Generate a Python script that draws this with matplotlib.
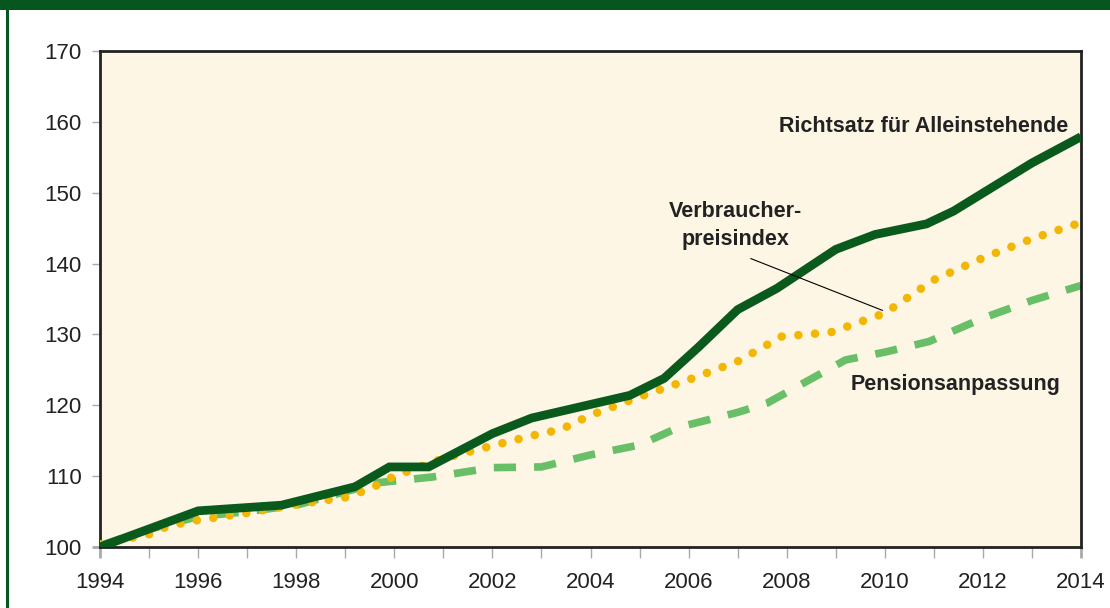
import matplotlib
matplotlib.use("Agg")
import matplotlib.pyplot as plt
from matplotlib.patches import Rectangle
from matplotlib.lines import Line2D

plt.rcParams['font.family'] = ['Liberation Sans', 'DejaVu Sans']
plt.rcParams['lines.scale_dashes'] = False

# Richtsatz für Alleinstehende
r_years = [1994, 1996, 1997.7, 1999.2, 1999.9, 2000.7, 2002, 2002.8, 2004.8, 2005.5,
           2006.2, 2007.0, 2007.8, 2009.0, 2009.8, 2010.85, 2011.4, 2013.0, 2014]
r_vals = [100, 105.1, 105.9, 108.5, 111.3, 111.3, 116.0, 118.2, 121.4, 123.8,
          128.2, 133.5, 136.5, 142.0, 144.1, 145.6, 147.4, 154.2, 157.9]

# Verbraucherpreisindex
c_years = [1994, 1995, 1995.4, 1996, 1997, 1998, 1999, 1999.5, 2000, 2001, 2002, 2002.8,
           2003.4, 2004, 2005, 2006, 2007, 2007.9, 2008.9, 2010, 2011, 2012, 2013, 2014]
c_vals = [100.4, 101.8, 103.0, 103.8, 104.8, 106.0, 107.0, 108.2, 110.0, 112.5, 114.3, 115.7,
          116.6, 118.6, 121.2, 123.6, 126.2, 129.7, 130.3, 133.0, 137.7, 140.8, 143.5, 145.8]

# Pensionsanpassung
p_years = [1994, 1995, 1996, 1997, 1998, 1999, 1999.7, 2000.8, 2002, 2003, 2004, 2005,
           2005.8, 2007, 2007.6, 2009.2, 2010, 2010.9, 2012, 2013, 2014]
p_vals = [100.2, 102.5, 104.3, 105.0, 105.9, 107.8, 109.1, 109.9, 111.2, 111.3, 113.0, 114.4,
          116.9, 119.0, 120.3, 126.4, 127.5, 129.0, 132.3, 134.8, 136.9]

x_major = list(range(1994, 2015, 2))
x_minor = list(range(1994, 2015, 1))
y_ticks = [100, 110, 120, 130, 140, 150, 160, 170]

dark_green = '#0A5A1E'
light_green = '#68BF68'
yellow = '#F2B705'
cream = '#FDF6E4'
ink = '#222222'

fig = plt.figure(figsize=(11.10, 6.08), dpi=100)
fig.patch.set_facecolor('white')
fig.patches.append(Rectangle((0, 1 - 10 / 608), 1, 10 / 608, transform=fig.transFigure,
                             facecolor='#07561F', edgecolor='none'))
fig.lines.append(Line2D([6.5 / 1110, 6.5 / 1110], [0, 1], transform=fig.transFigure,
                        color='#07561F', lw=2.2))

ax = fig.add_axes([100 / 1110, 1 - 547 / 608, 981 / 1110, 496 / 608])
ax.set_facecolor(cream)

ax.plot(p_years, p_vals, color=light_green, lw=5.5, dashes=(16, 13),
        dash_capstyle='butt', dash_joinstyle='round', zorder=2)
ax.plot(c_years, c_vals, color=yellow, lw=6.2, dashes=(0.01, 12.0),
        dash_capstyle='round', zorder=3)
ax.plot(r_years, r_vals, color=dark_green, lw=6.3, solid_joinstyle='miter',
        solid_capstyle='butt', zorder=4)

ax.set_xlim(1994, 2014)
ax.set_ylim(100, 170)
ax.set_xticks(x_major)
ax.set_xticks(x_minor, minor=True)
ax.set_yticks(y_ticks)
ax.set_xticklabels([str(y) for y in x_major])

for s in ax.spines.values():
    s.set_color(ink)
    s.set_linewidth(2.0)

ax.tick_params(axis='x', which='both', direction='out', length=8, width=1.0,
               color='#AAAAAA', pad=10, labelsize=16, labelcolor=ink)
ax.tick_params(axis='y', direction='out', length=6, width=1.0, color='#AAAAAA',
               pad=7, labelsize=16, labelcolor=ink)
ax.xaxis.get_major_ticks()[0].tick1line.set_color(ink)
ax.xaxis.get_major_ticks()[-1].tick1line.set_color(ink)
ax.xaxis.get_major_ticks()[0].tick1line.set_markeredgewidth(2)
ax.xaxis.get_major_ticks()[-1].tick1line.set_markeredgewidth(2)
ax.yaxis.get_major_ticks()[0].tick1line.set_color(ink)
ax.yaxis.get_major_ticks()[0].tick1line.set_markeredgewidth(2)

ax.text(2013.73, 158.5, 'Richtsatz für Alleinstehende', ha='right', va='baseline',
        fontsize=15.5, fontweight='bold', color=ink, zorder=6)
ax.text(2006.95, 146.6, 'Verbraucher-', ha='center', va='baseline',
        fontsize=15.5, fontweight='bold', color=ink, zorder=6)
ax.text(2006.95, 142.6, 'preisindex', ha='center', va='baseline',
        fontsize=15.5, fontweight='bold', color=ink, zorder=6)
ax.text(2011.45, 122.2, 'Pensionsanpassung', ha='center', va='baseline',
        fontsize=15.5, fontweight='bold', color=ink, zorder=6)
ax.plot([2007.27, 2009.95], [140.7, 133.4], color='black', lw=0.8, zorder=5)

fig.savefig('out.png', dpi=100, facecolor='white')
